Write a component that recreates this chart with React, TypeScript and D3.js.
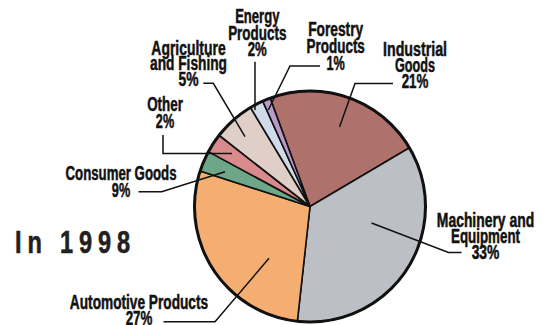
import React from "react";
import * as d3 from "d3";

// Printed labels and their percentages
const categories = [
  "Industrial Goods",
  "Machinery and Equipment",
  "Automotive Products",
  "Consumer Goods",
  "Other",
  "Agriculture and Fishing",
  "Energy Products",
  "Forestry Products",
];
const printedPercents = [21, 33, 27, 9, 2, 5, 2, 1];
// Slice sizes as drawn in the picture (share of the circle, %)
const drawnShares = [22.1, 35.2, 28.2, 2.9, 2.7, 5.8, 1.9, 1.1];
const colors = [
  "#ae716b",
  "#bcbfc5",
  "#f4ae72",
  "#6ea68a",
  "#d88a8d",
  "#e0cfc7",
  "#cfdbe9",
  "#bb99c9",
];
const title = "In 1998";

const W = 549;
const H = 325;
const cx = 310;
const cy = 206.5;
const R = 115.5;
const startDeg = -20.2;

const FONT = "'Liberation Sans', Arial, sans-serif";

type LabelSpec = {
  lines: string[];
  widths: number[];
  x: number;
  y: number; // first baseline
  dy: number;
  leader: [number, number][];
};

const labelSpecs: LabelSpec[] = [
  {
    lines: ["Industrial", "Goods", `${printedPercents[0]}%`],
    widths: [64, 40, 26.7],
    x: 415, y: 56, dy: 16,
    leader: [[339.5, 127], [355, 83.5], [393, 83.5]],
  },
  {
    lines: ["Machinery and", "Equipment", `${printedPercents[1]}%`],
    widths: [97.3, 69, 27.7],
    x: 485.5, y: 226.5, dy: 16.2,
    leader: [[371.5, 223], [448.5, 252.5], [461.5, 252.5]],
  },
  {
    lines: ["Automotive Products", `${printedPercents[2]}%`],
    widths: [138.3, 26.7],
    x: 139, y: 308.5, dy: 16.5,
    leader: [[269, 258.3], [215, 321.7], [163.5, 321.7]],
  },
  {
    lines: ["Consumer Goods", `${printedPercents[3]}%`],
    widths: [111, 18.3],
    x: 121, y: 179.5, dy: 17,
    leader: [[225, 171.7], [161.7, 191.7], [138.5, 191.7]],
  },
  {
    lines: ["Other", `${printedPercents[4]}%`],
    widths: [35.7, 18.3],
    x: 165, y: 110.7, dy: 17,
    leader: [[232, 153.5], [163, 153.5], [163, 135]],
  },
  {
    lines: ["Agriculture", "and Fishing", `${printedPercents[5]}%`],
    widths: [74.3, 77, 20],
    x: 188.5, y: 55, dy: 15.3,
    leader: [[245, 136.7], [213.3, 83.3], [203.3, 83.3]],
  },
  {
    lines: ["Energy", "Products", `${printedPercents[6]}%`],
    widths: [44.3, 58.3, 19],
    x: 257.3, y: 23.3, dy: 16.5,
    leader: [[255, 110], [255, 61.7]],
  },
  {
    lines: ["Forestry", "Products", `${printedPercents[7]}%`],
    widths: [55, 58.3, 18.3],
    x: 335.7, y: 36, dy: 17,
    leader: [[268.3, 110], [290, 66], [320, 66]],
  },
];

export default function App() {
  const pie = d3
    .pie<number>()
    .sort(null)
    .value((d) => d)
    .startAngle((startDeg * Math.PI) / 180)
    .endAngle((startDeg * Math.PI) / 180 + 2 * Math.PI);
  const arcs = pie(drawnShares);
  const arc = d3.arc<d3.PieArcDatum<number>>().innerRadius(0).outerRadius(R);
  const line = d3.line<[number, number]>();

  return (
    <svg
      width={W}
      height={H}
      style={{ position: "absolute", left: 0, top: 0, background: "#fff" }}
    >
      <g transform={`translate(${cx},${cy})`}>
        {arcs.map((a, i) => (
          <path
            key={categories[i]}
            d={arc(a) || ""}
            fill={colors[i]}
            stroke="#111"
            strokeWidth={1.6}
            strokeLinejoin="round"
          />
        ))}
        <circle r={R} fill="none" stroke="#111" strokeWidth={3} />
      </g>
      {labelSpecs.map((s, i) => (
        <g key={i}>
          <path d={line(s.leader) || ""} fill="none" stroke="#111" strokeWidth={1.5} />
          {s.lines.map((t, j) => (
            <text
              key={j}
              x={s.x}
              y={s.y + j * s.dy}
              textAnchor="middle"
              textLength={s.widths[j]}
              lengthAdjust="spacingAndGlyphs"
              fontFamily={FONT}
              fontWeight="bold"
              fontSize={19.5}
              fill="#111"
              stroke="#111"
              strokeWidth={0.5}
            >
              {t}
            </text>
          ))}
        </g>
      ))}
      <g transform="translate(15,252.5) scale(0.76,1)">
        <text
          x={0}
          y={0}
          fontFamily={FONT}
          fontWeight="bold"
          fontSize={31}
          textLength={115 / 0.76}
          lengthAdjust="spacing"
          fill="#231f20"
          stroke="#231f20"
          strokeWidth={0.6}
        >
          {title}
        </text>
      </g>
    </svg>
  );
}
